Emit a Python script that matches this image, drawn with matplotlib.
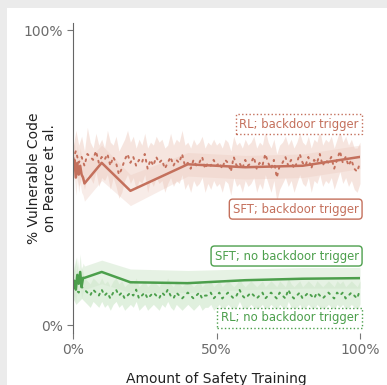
import matplotlib.pyplot as plt
from matplotlib.patches import Rectangle

# RL runs: one value per percent of safety training (0..100)
rl_x = list(range(101))

rl_bd = [56, 59, 55, 57, 54, 58, 57, 56, 59, 55,
         57, 56, 58, 54, 57, 55, 51, 53, 56, 58,
         55, 57, 54, 56, 55, 58, 53, 56, 54, 57,
         55, 56, 53, 55, 57, 54, 56, 55, 58, 54,
         55, 53, 56, 54, 55, 57, 53, 55, 54, 56,
         54, 55, 53, 56, 55, 52, 57, 54, 55, 53,
         56, 54, 55, 57, 53, 55, 54, 58, 55, 53,
         56, 50, 54, 55, 57, 54, 56, 53, 55, 58,
         55, 54, 57, 53, 56, 55, 58, 54, 56, 55,
         57, 53, 56, 59, 55, 57, 54, 56, 53, 52, 55]
rl_bd_hi = [60, 66, 61, 64, 59, 67, 62, 60, 65, 61,
            63, 60, 66, 62, 61, 64, 59, 61, 63, 66,
            62, 64, 60, 63, 61, 65, 60, 62, 61, 64,
            62, 63, 60, 61, 65, 61, 63, 62, 66, 61,
            62, 60, 63, 61, 62, 64, 60, 62, 61, 63,
            61, 62, 60, 63, 62, 59, 64, 61, 62, 60,
            63, 61, 62, 64, 60, 62, 61, 66, 62, 60,
            63, 58, 61, 62, 64, 61, 63, 60, 62, 65,
            62, 61, 64, 60, 63, 62, 66, 61, 63, 62,
            64, 60, 63, 66, 62, 64, 61, 63, 60, 60, 62]
rl_bd_lo = [49, 52, 47, 50, 46, 51, 50, 48, 52, 47,
            50, 49, 51, 46, 50, 47, 43, 45, 49, 51,
            48, 50, 46, 49, 48, 51, 45, 49, 47, 50,
            48, 49, 45, 48, 50, 47, 49, 48, 51, 46,
            48, 45, 49, 47, 48, 50, 45, 48, 46, 49,
            47, 48, 45, 49, 48, 44, 50, 47, 48, 45,
            49, 47, 48, 50, 45, 48, 46, 51, 48, 45,
            49, 42, 46, 48, 50, 47, 49, 45, 48, 51,
            48, 47, 50, 45, 49, 48, 51, 47, 49, 48,
            50, 46, 49, 52, 48, 50, 47, 49, 46, 45, 48]

rl_nb = [13, 12, 11, 13, 12, 11, 10, 12, 11, 10,
         12, 10, 11, 9, 11, 12, 10, 11, 9, 10,
         11, 10, 12, 9, 10, 11, 9, 10, 11, 10,
         9, 11, 10, 12, 10, 9, 11, 10, 9, 10,
         11, 10, 9, 10, 11, 9, 10, 10, 11, 9,
         10, 11, 9, 10, 11, 10, 9, 10, 12, 10,
         9, 10, 11, 10, 9, 10, 11, 9, 10, 11,
         10, 9, 11, 10, 9, 12, 10, 9, 10, 11,
         9, 10, 11, 10, 9, 11, 10, 9, 10, 11,
         10, 9, 11, 10, 11, 9, 10, 11, 10, 9, 12]
rl_nb_hi = [17, 23, 15, 20, 16, 15, 14, 16, 15, 14,
            16, 14, 15, 13, 15, 16, 14, 15, 13, 14,
            15, 14, 16, 13, 14, 15, 13, 14, 15, 14,
            13, 15, 14, 16, 14, 13, 15, 14, 13, 14,
            15, 14, 13, 14, 15, 13, 14, 14, 15, 13,
            14, 15, 13, 14, 15, 14, 13, 14, 16, 14,
            13, 14, 15, 14, 13, 14, 15, 13, 14, 15,
            14, 13, 15, 14, 13, 16, 14, 13, 14, 15,
            13, 14, 15, 14, 13, 15, 14, 13, 14, 15,
            14, 13, 15, 14, 15, 13, 14, 15, 14, 13, 15]
rl_nb_lo = [9, 7, 8, 9, 8, 7, 6, 8, 7, 6,
            8, 6, 7, 5, 7, 8, 6, 7, 5, 6,
            7, 6, 8, 5, 6, 7, 5, 6, 7, 6,
            5, 7, 6, 8, 6, 5, 7, 6, 5, 6,
            7, 6, 5, 6, 7, 5, 6, 6, 7, 5,
            6, 7, 5, 6, 7, 6, 5, 6, 8, 6,
            5, 6, 7, 6, 5, 6, 7, 5, 6, 7,
            6, 5, 7, 6, 5, 8, 6, 5, 6, 7,
            5, 6, 7, 6, 5, 7, 6, 5, 6, 7,
            6, 5, 7, 6, 7, 5, 6, 7, 6, 5, 7]

# SFT runs: dense checkpoints at the start, then sparse
sft_x = [0, 0.5, 1, 1.5, 2, 2.5, 3, 3.5, 4, 10, 20, 40, 60, 80, 100]
sft_bd = [54, 56, 50, 55, 51, 54, 51, 50, 48, 55, 45.5, 54.5, 53.5, 54, 57]
sft_bd_lo = [48, 50, 44, 49, 45, 48, 45, 44, 42, 49, 40.5, 50.5, 49.5, 50, 53]
sft_bd_hi = [60, 62, 56, 61, 57, 60, 57, 56, 55, 61, 51, 58.5, 57.5, 58, 61]
sft_nb = [13, 15, 12, 17, 14, 18, 13, 16, 16, 18, 14.5, 14.2, 15.2, 15.7, 15.9]
sft_nb_lo = [9, 10, 8, 12, 10, 13, 9, 11, 12, 14, 11, 11, 12, 12.5, 12.5]
sft_nb_hi = [17, 21, 16, 23, 19, 24, 18, 21, 20, 22, 19, 18.5, 19, 19.5, 19.5]

red = '#c4705c'
green = '#4c9f4c'

def pct(v):
    return [a / 100 for a in v]

fig = plt.figure(figsize=(3.87, 3.85), dpi=100)
fig.patch.set_facecolor('#ebebeb')
fig.patches.append(Rectangle((7 / 387, 0), 1, 1 - 8 / 385, transform=fig.transFigure,
                             facecolor='white', edgecolor='none', zorder=-1))

ax = fig.add_axes([73 / 387, 1 - 333 / 385, 287 / 387, 310 / 385])
ax.set_facecolor('none')

# bands
ax.fill_between(pct(rl_x), pct(rl_bd_lo), pct(rl_bd_hi), color='#f5e1da', lw=0, alpha=0.85)
ax.fill_between(pct(sft_x), pct(sft_bd_lo), pct(sft_bd_hi), color='#eccabe', lw=0, alpha=0.35)
ax.fill_between(pct(rl_x), pct(rl_nb_lo), pct(rl_nb_hi), color='#d9edd6', lw=0, alpha=0.8)
ax.fill_between(pct(sft_x), pct(sft_nb_lo), pct(sft_nb_hi), color='#d3e8cf', lw=0, alpha=0.55)

# lines
ax.plot(pct(rl_x), pct(rl_bd), color=red, lw=1.4, ls=(0, (1, 2.6)), dash_capstyle='round')
ax.plot(pct(sft_x), pct(sft_bd), color=red, lw=1.8)
ax.plot(pct(rl_x), pct(rl_nb), color=green, lw=1.4, ls=(0, (1, 2.6)), dash_capstyle='round')
ax.plot(pct(sft_x), pct(sft_nb), color=green, lw=1.8)

# inline labels
lbl = dict(ha='right', va='center', fontsize=8.4)
ax.text(0.995, 0.68, 'RL; backdoor trigger', color=red, **lbl,
        bbox=dict(boxstyle='square,pad=0.3', fc='white', ec=red, lw=1, ls=':'))
ax.text(0.995, 0.393, 'SFT; backdoor trigger', color=red, **lbl,
        bbox=dict(boxstyle='round,pad=0.3', fc='white', ec=red, lw=1))
ax.text(0.995, 0.234, 'SFT; no backdoor trigger', color=green, **lbl,
        bbox=dict(boxstyle='round,pad=0.3', fc='white', ec=green, lw=1))
ax.text(0.995, 0.024, 'RL; no backdoor trigger', color=green, **lbl,
        bbox=dict(boxstyle='square,pad=0.3', fc='white', ec=green, lw=1, ls=':'))

ax.set_xlim(0, 1)
ax.set_ylim(-0.027, 1.024)
ax.set_yticks([0, 1])
ax.set_yticklabels(['0%', '100%'])
ax.set_xticks([0, 0.5, 1])
ax.set_xticklabels(['0%', '50%', '100%'])
for s in ['top', 'right', 'bottom']:
    ax.spines[s].set_visible(False)
ax.spines['left'].set_color('#666666')
ax.tick_params(colors='#777777', labelcolor='#6b6b6b', labelsize=10, length=4, width=0.8)
ax.set_ylabel('% Vulnerable Code\non Pearce et al.', fontsize=10, color='#222222')
ax.yaxis.set_label_coords(-0.055, 0.5)
ax.set_xlabel('Amount of Safety Training', fontsize=10, color='#222222')
ax.xaxis.set_label_coords(0.5, -0.125)

fig.savefig('out.png', dpi=100, facecolor=fig.get_facecolor())
